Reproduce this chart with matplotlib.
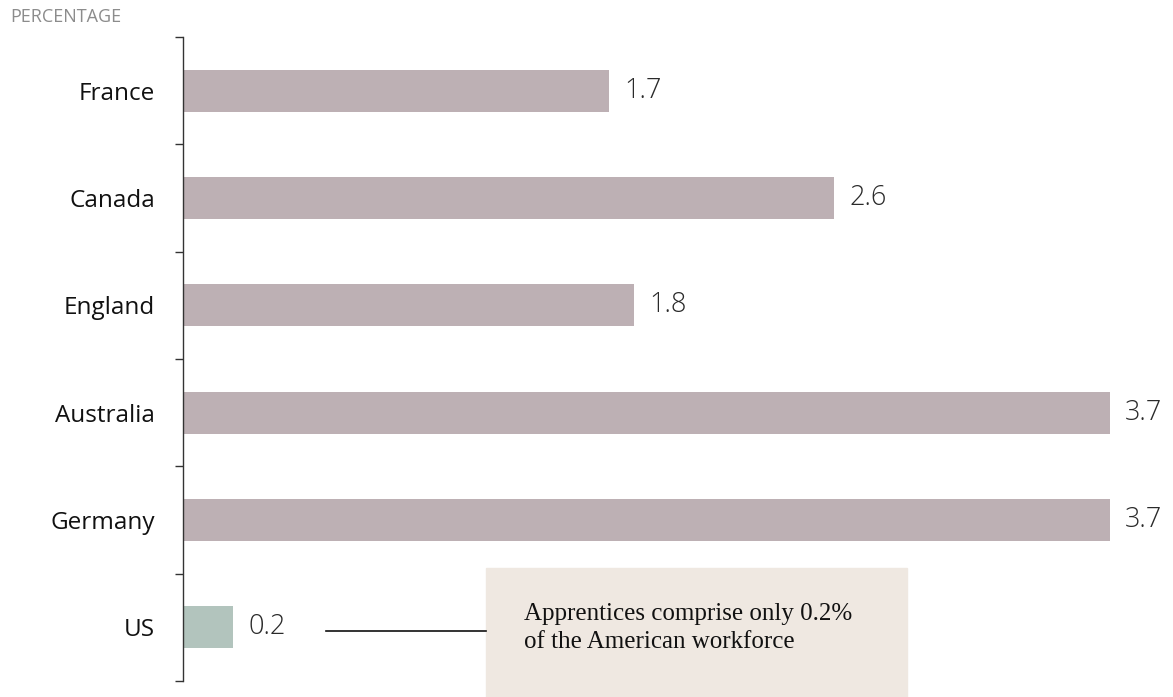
import matplotlib.pyplot as plt

## data
countries = ['France', 'Canada', 'England', 'Australia', 'Germany', 'US']
values = [1.7, 2.6, 1.8, 3.7, 3.7, 0.2]
bar_colors = ['#bdb0b4', '#bdb0b4', '#bdb0b4', '#bdb0b4', '#bdb0b4', '#b2c4bd']
note = 'Apprentices comprise only 0.2%\nof the American workforce'

W, H = 1173, 697
fig = plt.figure(figsize=(W / 100, H / 100), dpi=100)
ax = fig.add_axes([183 / W, 1 - 681 / H, (1110 - 183) / W, (681 - 37) / H])

pos = list(range(len(countries)))
ax.barh(pos, values, height=0.39, color=bar_colors)
ax.set_xlim(0, 3.7)
ax.set_ylim(len(countries) - 0.5, -0.5)

# value labels right of each bar
for p, v in zip(pos, values):
    ax.annotate(f'{v:.1f}', (v, p), xytext=(15, 0), textcoords='offset pixels',
                va='center', ha='left', fontsize=19.5, family='Open Sans',
                fontweight='light', color='#2a2a2a', annotation_clip=False)

# only the left spine, with ticks at the category boundaries
for s in ['top', 'right', 'bottom']:
    ax.spines[s].set_visible(False)
ax.spines['left'].set_color('#333333')
ax.spines['left'].set_linewidth(1)
ax.set_xticks([])
ax.set_yticks([p - 0.5 for p in pos] + [len(countries) - 0.5])
ax.set_yticklabels([])
ax.tick_params(axis='y', length=6, width=1, color='#333333', direction='out')
ax.set_yticks(pos, minor=True)
ax.set_yticklabels(countries, minor=True, fontsize=17.5, family='Open Sans', color='#111111')
ax.tick_params(axis='y', which='minor', length=0, pad=20)

fig.text(10 / W, 1 - 17 / H, 'PERCENTAGE', fontsize=13, color='#8c8c8c',
         family='Open Sans', va='center', ha='left')

# annotation box and leader line
box = plt.Rectangle((486 / W, 0), (907 - 486) / W, (697 - 568) / H,
                    transform=fig.transFigure, color='#efe8e1', zorder=0)
fig.patches.append(box)
fig.lines.append(plt.Line2D([326 / W, 486 / W], [1 - 631 / H, 1 - 631 / H],
                            transform=fig.transFigure, color='#111111', lw=1.2))
fig.text(524 / W, 1 - 628 / H, note, fontsize=18, family='Liberation Serif',
         color='#111111', va='center', ha='left', linespacing=1.35)

fig.savefig('out.png', dpi=100)
